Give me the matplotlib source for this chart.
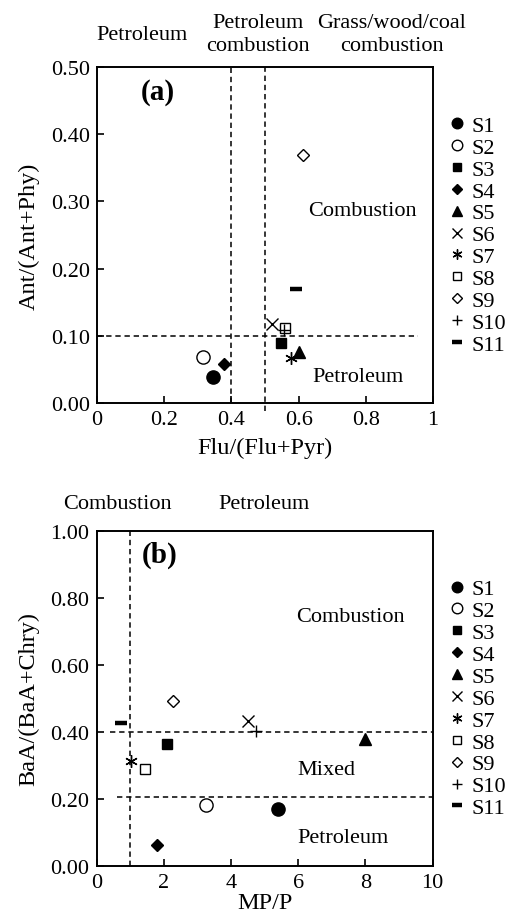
import matplotlib
matplotlib.use("Agg")
import matplotlib.pyplot as plt

plt.rcParams['font.family'] = ['Liberation Serif', 'DejaVu Serif']
plt.rcParams['mathtext.fontset'] = 'stix'

samples = ['S1', 'S2', 'S3', 'S4', 'S5', 'S6', 'S7', 'S8', 'S9', 'S10', 'S11']
flu_ratio = [0.344, 0.315, 0.547, 0.378, 0.602, 0.520, 0.577, 0.560, 0.612, 0.557, 0.591]
ant_ratio = [0.038, 0.069, 0.089, 0.058, 0.076, 0.118, 0.067, 0.112, 0.369, 0.108, 0.170]
mp_p = [5.39, 3.25, 2.10, 1.81, 8.00, 4.50, 1.03, 1.43, 2.27, 4.75, 0.74]
baa_ratio = [0.170, 0.182, 0.363, 0.064, 0.380, 0.433, 0.312, 0.289, 0.492, 0.403, 0.426]

xticks_a = [0, 0.2, 0.4, 0.6, 0.8, 1]
xticklabels_a = ['0', '0.2', '0.4', '0.6', '0.8', '1']
yticks_a = [0.0, 0.1, 0.2, 0.3, 0.4, 0.5]
yticklabels_a = ['0.00', '0.10', '0.20', '0.30', '0.40', '0.50']
xticks_b = [0, 2, 4, 6, 8, 10]
yticks_b = [0.0, 0.2, 0.4, 0.6, 0.8, 1.0]
yticklabels_b = ['0.00', '0.20', '0.40', '0.60', '0.80', '1.00']

# marker styles: (marker, markersize, facecolor, edgewidth)
styles = [
    ('o', 9.5, 'black', 1.0),
    ('o', 9.5, 'white', 1.0),
    ('s', 7, 'black', 1.0),
    ('D', 6.5, 'black', 1.0),
    ('^', 8.5, 'black', 1.0),
    ('x', 8.5, 'black', 1.0),
    ((6, 2, 0), 9, 'black', 1.0),
    ('s', 7, 'white', 1.0),
    ('D', 6.5, 'white', 1.0),
    ('+', 9, 'black', 1.0),
    ('_', 9, 'black', 3.2),
]

fig = plt.figure(figsize=(5.09, 9.2), dpi=100)
FS = 16
LFS = 17.5

ax1 = fig.add_axes([97/509, 1-404/920, 336/509, 336/920])
ax2 = fig.add_axes([96.5/509, 1-867/920, 336/509, 335/920])

def draw_points(ax, xs, ys):
    for i, s in enumerate(samples):
        m, ms, fc, ew = styles[i]
        ax.plot([xs[i]], [ys[i]], linestyle='none', marker=m, markersize=ms,
                markerfacecolor=fc, markeredgecolor='black', markeredgewidth=ew,
                color='black', label=s, clip_on=False, zorder=5)

def style_axes(ax):
    for sp in ax.spines.values():
        sp.set_linewidth(1.4)
    ax.tick_params(direction='in', length=5, width=1.2, labelsize=FS,
                   top=False, right=False, pad=5)
    ax.legend(loc='center left', bbox_to_anchor=(1.02, 0.5), frameon=False,
              fontsize=FS, handlelength=0.6, handletextpad=0.35,
              labelspacing=0.06, markerscale=0.8, borderpad=0)

dash = (0, (3.5, 2.5))

# ---- panel (a)
draw_points(ax1, flu_ratio, ant_ratio)
ax1.set_xlim(0, 1)
ax1.set_ylim(0, 0.5)
ax1.set_xticks(xticks_a)
ax1.set_xticklabels(xticklabels_a)
ax1.set_yticks(yticks_a)
ax1.set_yticklabels(yticklabels_a)
ax1.plot([0, 0.955], [0.1, 0.1], color='black', lw=1.1, linestyle=dash)
ax1.plot([0.4, 0.4], [0, 0.5], color='black', lw=1.1, linestyle=dash)
ax1.plot([0.5, 0.5], [-0.012, 0.5], color='black', lw=1.1, linestyle=dash, clip_on=False)
ax1.set_xlabel('Flu/(Flu+Pyr)', fontsize=LFS, labelpad=6)
ax1.set_ylabel('Ant/(Ant+Phy)', fontsize=LFS, labelpad=8)
ax1.text(0.18, 0.463, '(a)', fontsize=21, fontweight='bold', ha='center', va='center')
ax1.text(0.79, 0.286, 'Combustion', fontsize=FS, ha='center', va='center')
ax1.text(0.777, 0.039, 'Petroleum', fontsize=FS, ha='center', va='center')
fig.text(142/509, 1-36/920, 'Petroleum', fontsize=FS, ha='center', va='center')
fig.text(258/509, 1-35/920, 'Petroleum\ncombustion', fontsize=FS, ha='center', va='center',
         linespacing=1.3)
fig.text(392/509, 1-35/920, 'Grass/wood/coal\ncombustion', fontsize=FS, ha='center',
         va='center', linespacing=1.3)
style_axes(ax1)

# ---- panel (b)
draw_points(ax2, mp_p, baa_ratio)
ax2.set_xlim(0, 10)
ax2.set_ylim(0, 1.0)
ax2.set_xticks(xticks_b)
ax2.set_yticks(yticks_b)
ax2.set_yticklabels(yticklabels_b)
ax2.plot([1, 1], [0, 1.0], color='black', lw=1.1, linestyle=dash)
ax2.plot([0.4, 10], [0.4, 0.4], color='black', lw=1.1, linestyle=dash)
ax2.plot([0.6, 10], [0.205, 0.205], color='black', lw=1.1, linestyle=dash)
ax2.set_xlabel('MP/P', fontsize=LFS, labelpad=0)
ax2.set_ylabel('BaA/(BaA+Chry)', fontsize=LFS, labelpad=8)
ax2.text(1.89, 0.93, '(b)', fontsize=21, fontweight='bold', ha='center', va='center')
ax2.text(7.57, 0.746, 'Combustion', fontsize=FS, ha='center', va='center')
ax2.text(6.83, 0.287, 'Mixed', fontsize=FS, ha='center', va='center')
ax2.text(7.34, 0.084, 'Petroleum', fontsize=FS, ha='center', va='center')
fig.text(117/509, 1-505/920, 'Combustion', fontsize=FS, ha='center', va='center')
fig.text(264/509, 1-505/920, 'Petroleum', fontsize=FS, ha='center', va='center')
style_axes(ax2)

fig.savefig('out.png', dpi=100)
